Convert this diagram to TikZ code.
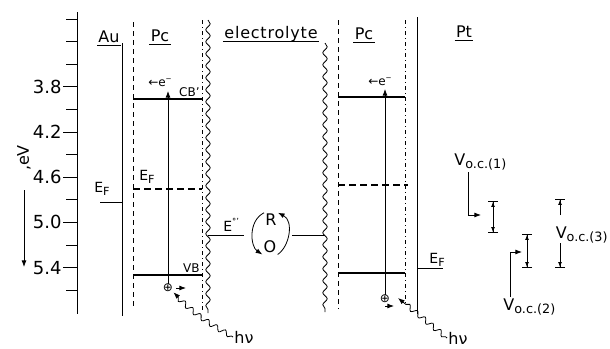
\documentclass[tikz,border=0pt]{standalone}
\usepackage{fontspec}
\usepackage{graphicx}
\setmainfont{DejaVu Sans}
\usetikzlibrary{arrows.meta,decorations.pathmorphing}

\newcommand{\lowsub}[1]{\raisebox{-0.45ex}{\scalebox{0.8}{#1}}}
\newcommand{\upsup}[1]{\raisebox{0.85ex}{\scalebox{0.6}{#1}}}

\tikzset{
    lbl/.style={font=\fontsize{16}{16}\selectfont, inner sep=1pt},
    num/.style={font=\fontsize{18}{18}\selectfont, inner sep=1pt},
    bandlbl/.style={font=\fontsize{12}{12}\selectfont, inner sep=1pt},
    flbl/.style={font=\fontsize{14}{14}\selectfont, inner sep=1pt},
    title/.style={lbl, anchor=base, text depth=2pt},
    uline/.style={line width=1.2pt},
    band/.style={line width=1.4pt},
    fermi/.style={line width=1.4pt, dash pattern=on 7pt off 4pt},
    pcleft/.style={line width=0.9pt, dash pattern=on 5pt off 4pt},
    pcright/.style={line width=0.9pt, dash pattern=on 4pt off 3pt on 1pt off 3pt},
    wavy/.style={line width=0.8pt, decorate, decoration={snake, amplitude=2.2pt, segment length=12pt}},
    photon/.style={->, line width=0.8pt, decorate, decoration={snake, amplitude=2.5pt, segment length=10pt, pre length=2pt, post length=6pt}},
    vbar/.style={{Bar[width=10pt]Latex[length=5pt]}-{Latex[length=5pt]Bar[width=10pt]}},
}

\begin{document}
\begin{tikzpicture}[x=1pt, y=-1pt, >=Latex, line width=0.8pt]
    \useasboundingbox (0,0) rectangle (610,348);

    \coordinate (top) at (77,12);
    \coordinate (bot) at (77,314);
    \draw (top) -- (bot);
    \foreach \k in {0,...,12}
        \draw (66,{19+22.6*\k}) -- (77,{19+22.6*\k});
    \foreach \v/\k in {3.8/3, 4.2/5, 4.6/7, 5.0/9, 5.4/11} {
        \node [num, anchor=east] (s\k) at (63,{19+22.6*\k}) {\v};
        \draw (s\k.east) -- (77,{19+22.6*\k});
    }
    \node [lbl, rotate=90] (eV) at (24,158) {,eV};
    \coordinate (a1) at (24,190);
    \coordinate (a2) at (24,267);
    \draw [->] (a1) -- (a2);

    \node [title] (Au) at (109,42) {Au};
    \draw [uline] (Au.south west) -- (Au.south east);
    \coordinate (Au1) at (122,43);
    \coordinate (Au2) at (122,316);
    \draw (Au1) -- (Au2);
    \draw (100,202) -- (122,202);
    \node [flbl, anchor=base west] (EAu) at (93,192) {E\lowsub{F}};

    \node [title] (PcL) at (160,41) {Pc};
    \draw [uline] (PcL.south west) -- (PcL.south east);
    \draw [pcleft] (133,22) -- (133,309);
    \draw [pcright] (202,20) -- (202,310);
    \draw [band] (133,99) -- (202,99);
    \draw [fermi] (133,189) -- (202,189);
    \draw [band] (133,275) -- (202,275);
    \node [bandlbl, anchor=base east] (CBL) at (201,96) {CB'};
    \node [bandlbl, anchor=base east] (VBL) at (201,272) {VB};
    \node [flbl, anchor=base west] (EL) at (138,180) {E\lowsub{F}};
    \node [bandlbl] (eL) at (160,83) {←e\upsup{−}};
    \node [bandlbl, inner sep=0pt] (hL) at (168,288) {⊕};
    \coordinate (tL) at (168,91);
    \draw [->] (hL.north) -- (tL);
    \coordinate (pL1) at (176,288);
    \coordinate (pL2) at (186,288);
    \draw [->] (pL1) -- (pL2);
    \node [lbl] (hnuL) at (244,337) {hν};
    \draw [photon] (hnuL.west) to [bend left=8] (hL.south east);

    \draw [wavy] (208,20) -- (208,313);
    \draw [wavy] (325,43) -- (325,312);
    \node [title] (El) at (271,38) {\addfontfeatures{LetterSpace=5}electrolyte};
    \draw [uline] (El.south west) -- (El.south east);
    \draw (208,235) -- (244,235);
    \draw (292,235) -- (325,235);
    \node [flbl, anchor=base west] (E0) at (222,231) {E\upsup{°'}};
    \node [lbl] (R) at (271,220) {R};
    \node [lbl] (O) at (270,247) {O};
    \draw [->] (R.north west) .. controls +(-16,8) and +(-12,-8) .. (O.south west);
    \draw [->] (O.south east) .. controls +(12,-8) and +(16,8) .. (R.north east);

    \node [title] (PcR) at (364,39) {Pc};
    \draw [uline] (PcR.south west) -- (PcR.south east);
    \draw [pcleft] (338,20) -- (338,309);
    \draw [pcright] (405,20) -- (405,303);
    \draw [band] (338,97) -- (405,97);
    \draw [fermi] (338,185) -- (408,185);
    \draw [band] (338,273) -- (405,273);
    \node [bandlbl] (eR) at (380,82) {←e\upsup{−}};
    \node [bandlbl, inner sep=0pt] (hR) at (385,299) {⊕};
    \coordinate (tR) at (385,89);
    \draw [->] (hR.north) -- (tR);
    \coordinate (pR1) at (385,306);
    \coordinate (pR2) at (394,306);
    \draw [->] (pR1) -- (pR2);
    \node [lbl] (hnuR) at (458,338) {hν};
    \coordinate (tipR) at (398,298);
    \draw [photon] (hnuR.west) -- (tipR);

    \node [title] (Pt) at (464,37) {Pt};
    \draw [uline] (Pt.south west) -- (Pt.south east);
    \coordinate (Pt1) at (417,17);
    \coordinate (Pt2) at (417,314);
    \draw (Pt1) -- (Pt2);
    \draw (417,268) -- (443,268);
    \node [flbl, anchor=base west] (EPt) at (428,263) {E\lowsub{F}};

    \node [lbl, anchor=base west] (V1) at (453,165) {V\lowsub{o.c.(1)}};
    \coordinate (b1t) at (493,201);
    \coordinate (b1b) at (493,233);
    \draw [vbar] (b1t) -- (b1b);
    \coordinate (k1) at (468,215);
    \coordinate (k1e) at (481,215);
    \draw [->] (V1.south west -| k1) |- (k1e);

    \node [lbl, anchor=base west] (V2) at (502,310) {V\lowsub{o.c.(2)}};
    \coordinate (b2t) at (527,234);
    \coordinate (b2b) at (527,268);
    \draw [vbar] (b2t) -- (b2b);
    \coordinate (k2) at (510,252);
    \coordinate (k2e) at (522,252);
    \draw [->] (V2.north west -| k2) |- (k2e);

    \node [lbl, anchor=base east] (V3) at (609,238) {V\lowsub{o.c.(3)}};
    \coordinate (b3t) at (560,199);
    \coordinate (b3b) at (560,268);
    \coordinate (b3u) at (560,215);
    \coordinate (b3d) at (560,243);
    \draw [-{Latex[length=5pt]Bar[width=10pt]}] (b3u) -- (b3t);
    \draw [-{Latex[length=5pt]Bar[width=10pt]}] (b3d) -- (b3b);
\end{tikzpicture}
\end{document}
